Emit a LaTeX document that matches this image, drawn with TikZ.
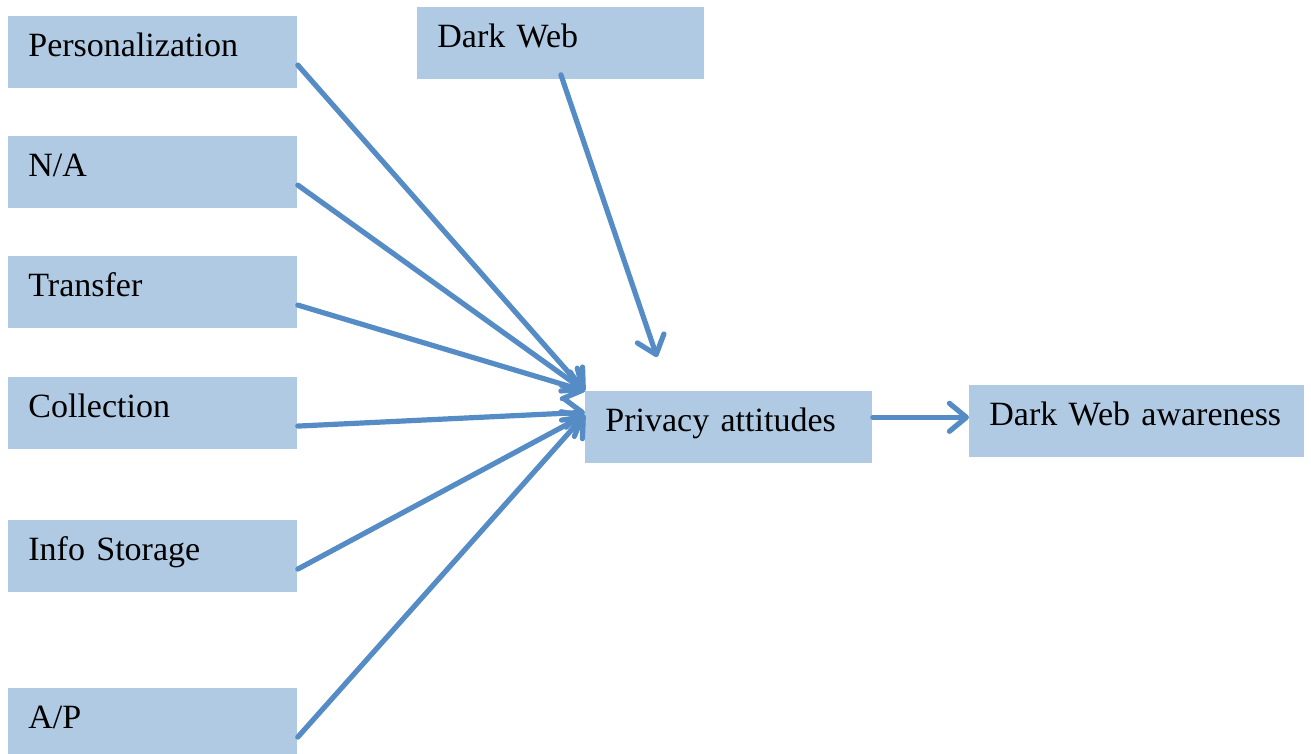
\documentclass[tikz,border=0pt]{standalone}
\usepackage{fontspec}
\setmainfont{Liberation Serif}
\usetikzlibrary{arrows.meta}

\definecolor{boxblue}{RGB}{176,202,227}
\definecolor{arrblue}{RGB}{86,140,197}

\tikzset{
    box/.style={fill=boxblue, anchor=north west, inner xsep=10pt, inner ysep=0pt,
        text width=124.5pt, align=left, text height=20.25pt, text depth=15.75pt,
        font=\fontsize{17}{20}\selectfont},
    arr/.style={draw=arrblue, line width=2.6pt, line cap=round,
        -{Straight Barb[length=8.5pt, width=14pt, round]}}
}

\begin{document}
\begin{tikzpicture}[x=0.5pt, y=-0.5pt]
            \useasboundingbox (0,0) rectangle (1311,754);
            % inputs on the left
            \node[box] (pers) at (8,16) {Personalization};
            \node[box] (na) at (8,136) {N/A};
            \node[box] (trans) at (8,256) {Transfer};
            \node[box] (coll) at (8,377) {Collection};
            \node[box] (store) at (8,520) {Info Storage};
            \node[box] (ap) at (8,688) {A/P};
            % top, middle and right
            \node[box, text width=123.5pt] (dark) at (417,7) {Dark Web};
            \node[box, text width=123.5pt] (priv) at (585,391) {Privacy attitudes};
            \node[box, text width=147.5pt] (aware) at (969,385) {Dark Web awareness};
            \coordinate (dwtip) at (657,357);

            \draw[arr] (pers.-5) -- (priv.north west);
            \draw[arr] (na.-5) -- (priv.north west);
            \draw[arr] (trans.-5) -- (priv.north west);
            \draw[arr] (coll.-5) -- (priv.174);
            \draw[arr] (store.-5) -- (priv.175);
            \draw[arr] (ap.-5) -- (priv.175);
            \draw[arr] ([yshift=2.5pt]dark.south) -- (dwtip);
            \draw[arr] (priv.4) -- (priv.4 -| aware.west);
        \end{tikzpicture}
\end{document}
